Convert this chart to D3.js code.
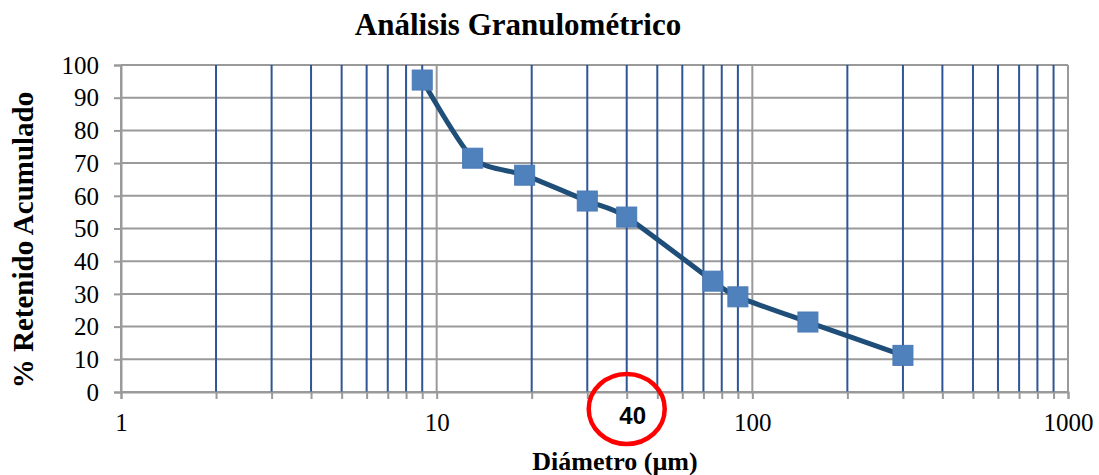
<!DOCTYPE html>
<html>
<head>
<meta charset="utf-8">
<script src="https://cdn.jsdelivr.net/npm/d3@7"></script>
</head>
<body style="margin:0">
<svg id="svg" width="1099" height="475"></svg>
<script>
// diámetro (µm) y % retenido acumulado
var diametros = [9, 13, 19, 30, 40, 75, 90, 150, 300];
var retenido = [95.4, 71.5, 66.3, 58.4, 53.5, 33.9, 29.1, 21.4, 11.2];
var yTicks = [0, 10, 20, 30, 40, 50, 60, 70, 80, 90, 100];
var xMajor = [1, 10, 100, 1000];
var marcado = 40;

var serif = '"Liberation Serif"';
var sans = '"Liberation Sans"';

var svg = d3.select('#svg');
var padding = {top: 65, right: 31, bottom: 83, left: 121};
var w = 1099 - padding.left - padding.right;
var h = 475 - padding.top - padding.bottom;

var xScale = d3.scaleLog().domain([1, 1000]).range([0, w]);
var yScale = d3.scaleLinear().domain([0, 100]).range([h, 0]);

var g = svg.append('g').attr('transform', 'translate(' + padding.left + ',' + padding.top + ')');

// todas las divisiones del eje log
var xAll = [];
[1, 10, 100].forEach(function(dec) {
  for (var k = 1; k <= 9; k++) xAll.push(dec * k);
});
xAll.push(1000);
var xMinor = xAll.filter(function(v) { return xMajor.indexOf(v) < 0; });

// horizontal grid
g.selectAll('.hgrid').data(yTicks).enter().append('line')
  .attr('x1', 0).attr('x2', w)
  .attr('y1', function(d) { return yScale(d); })
  .attr('y2', function(d) { return yScale(d); })
  .attr('stroke', '#9a9a9a').attr('stroke-width', 2);

// vertical grid: menores en azul, mayores en gris
g.selectAll('.vminor').data(xMinor).enter().append('line')
  .attr('x1', function(d) { return xScale(d); })
  .attr('x2', function(d) { return xScale(d); })
  .attr('y1', 0).attr('y2', h)
  .attr('stroke', '#2f5597').attr('stroke-width', 2);
g.selectAll('.vmajor').data(xMajor).enter().append('line')
  .attr('x1', function(d) { return xScale(d); })
  .attr('x2', function(d) { return xScale(d); })
  .attr('y1', 0).attr('y2', h)
  .attr('stroke', '#9a9a9a').attr('stroke-width', 2);

// ejes
var xAxis = g.append('g').attr('transform', 'translate(0,' + h + ')')
  .call(d3.axisBottom(xScale).tickValues(xAll).tickSize(7).tickFormat(function(d) {
    return xMajor.indexOf(d) >= 0 ? d : '';
  }));
var yAxis = g.append('g')
  .call(d3.axisLeft(yScale).tickValues(yTicks).tickSize(7));

[xAxis, yAxis].forEach(function(ax) {
  ax.attr('font-family', null).attr('font-size', null);
  ax.select('.domain').attr('stroke', '#9a9a9a').attr('stroke-width', 2);
  ax.selectAll('.tick line').attr('stroke', '#9a9a9a').attr('stroke-width', 2);
  ax.selectAll('text').style('font-family', serif)
    .style('font-size', '25px').attr('fill', '#000');
});
xAxis.selectAll('text').attr('y', 0).attr('dy', 39);
yAxis.selectAll('text').attr('dy', '0.33em').attr('x', -22);

// curva suavizada
var line = d3.line()
  .x(function(d) { return xScale(d[0]); })
  .y(function(d) { return yScale(d[1]); })
  .curve(d3.curveCardinal.tension(0.3));
var puntos = diametros.map(function(d, i) { return [d, retenido[i]]; });

g.append('path').datum(puntos)
  .attr('d', line).attr('fill', 'none')
  .attr('stroke', '#1f4e79').attr('stroke-width', 5);

g.selectAll('.marker').data(puntos).enter().append('rect')
  .attr('x', function(d) { return xScale(d[0]) - 10; })
  .attr('y', function(d) { return yScale(d[1]) - 10; })
  .attr('width', 20).attr('height', 20)
  .attr('fill', '#4f81bd').attr('stroke', '#4a7ab5').attr('stroke-width', 1);

// títulos
svg.append('text').attr('x', 518).attr('y', 35)
  .attr('text-anchor', 'middle')
  .style('font-family', serif)
  .style('font-weight', 'bold').style('font-size', '31px')
  .text('Análisis Granulométrico');

svg.append('text').attr('x', 615).attr('y', 470)
  .attr('text-anchor', 'middle')
  .style('font-family', serif)
  .style('font-weight', 'bold').style('font-size', '26px')
  .text('Diámetro (µm)');

svg.append('text')
  .attr('transform', 'translate(33,240) rotate(-90)')
  .attr('text-anchor', 'middle')
  .style('font-family', serif)
  .style('font-weight', 'bold').style('font-size', '29px')
  .text('% Retenido Acumulado');

// anotación del 40
var cx = padding.left + xScale(marcado);
svg.append('ellipse').attr('cx', cx).attr('cy', 409).attr('rx', 38).attr('ry', 35)
  .attr('fill', 'none').attr('stroke', '#ff0000').attr('stroke-width', 4.5);
svg.append('text').attr('x', cx + 6).attr('y', 424)
  .attr('text-anchor', 'middle')
  .style('font-family', sans)
  .style('font-weight', 'bold').style('font-size', '24px')
  .text(marcado);
</script>
</body>
</html>
